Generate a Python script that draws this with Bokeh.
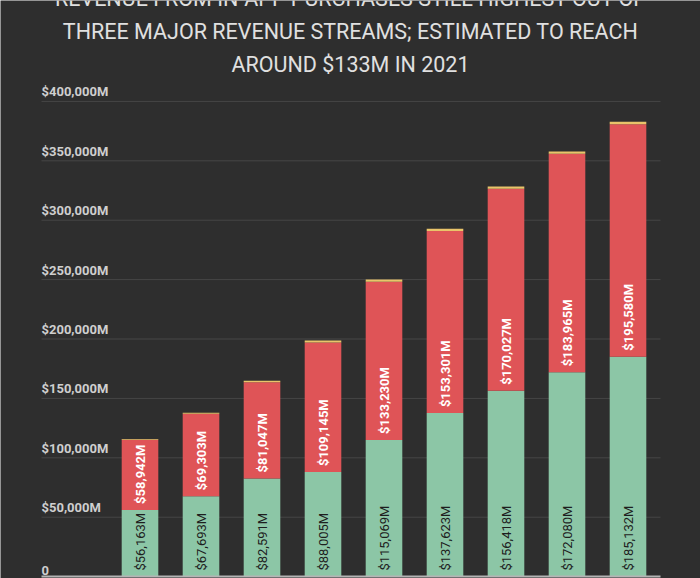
import numpy as np
from bokeh.plotting import figure
from bokeh.models import Range1d, ColumnDataSource
from bokeh.core.properties import value
from bokeh.embed import file_html
from bokeh.resources import INLINE

# ---- data ----
years = ["2013", "2014", "2015", "2016", "2017", "2018", "2019", "2020", "2021"]
in_app = [56163, 67693, 82591, 88005, 115069, 137623, 156418, 172080, 185132]
ads = [58942, 69303, 81047, 109145, 133230, 153301, 170027, 183965, 195580]
paid = [700, 900, 1300, 1500, 1800, 2000, 2000, 1900, 2100]
tick_values = [0, 50000, 100000, 150000, 200000, 250000, 300000, 350000, 400000]
tick_labels = ["0", "$50,000M", "$100,000M", "$150,000M", "$200,000M",
               "$250,000M", "$300,000M", "$350,000M", "$400,000M"]
title_lines = ["REVENUE FROM IN-APP PURCHASES STILL HIGHEST OUT OF",
               "THREE MAJOR REVENUE STREAMS; ESTIMATED TO REACH",
               "AROUND $133M IN 2021"]

W, H = 700, 578
BG = "#2e2e2e"
GREEN = "#8cc6a6"
RED = "#df5457"
YELLOW = "#e9c46a"

# scale helpers (pixels per unit)
X0_PX, X_STEP = 139.5, 61.0       # first bar centre, category spacing
Y0_PX, Y_PER_PX = 576.1, 841.8    # zero line pixel, value per pixel

x_start = -X0_PX / X_STEP
x_end = (W - X0_PX) / X_STEP
y_start = -(H - Y0_PX) * Y_PER_PX
y_end = Y0_PX * Y_PER_PX

def px_to_x(px):
    return (px - X0_PX) / X_STEP

def px_to_y(py):
    return (Y0_PX - py) * Y_PER_PX

p = figure(width=W, height=H, output_backend="svg", toolbar_location=None,
           x_range=Range1d(x_start, x_end), y_range=Range1d(y_start, y_end),
           min_border=0, background_fill_color=BG, border_fill_color=BG,
           outline_line_color=None)
p.axis.visible = False
p.xgrid.visible = False
p.ygrid.visible = False

idx = np.arange(len(years))
g = np.array(in_app, dtype=float)
r = np.array(ads, dtype=float)
yv = np.array(paid, dtype=float)

grid_left = px_to_x(41)
grid_right = px_to_x(660)

# gridlines
gv = [t for t in tick_values if t > 0]
p.segment(x0=[grid_left] * len(gv), x1=[grid_right] * len(gv), y0=gv, y1=gv,
          line_color="#464646", line_width=1)

src = ColumnDataSource(dict(
    x=idx, g=g, gr=g + r, grt=g + r + yv,
    glab=[f"${v:,}M" for v in in_app],
    rlab=[f"${v:,}M" for v in ads],
    gy=0 + 6 * Y_PER_PX + 0 * g,
    ry=g + 6 * Y_PER_PX,
))

p.vbar(x="x", width=0.6, bottom=0, top="g", source=src, fill_color=GREEN, line_color=None)
p.vbar(x="x", width=0.6, bottom="g", top="gr", source=src, fill_color=RED, line_color=None)
p.vbar(x="x", width=0.6, bottom="gr", top="grt", source=src, fill_color=YELLOW, line_color=None)

# baseline axis line
p.segment(x0=[grid_left], x1=[grid_right], y0=[0], y1=[0], line_color="#b4b4b4", line_width=2)

# bar labels
p.text(x="x", y="gy", text="glab", source=src, angle=np.pi / 2,
       text_align="left", text_baseline="middle", text_color="#1e1e1e",
       text_font=value("Roboto"), text_font_size="13px")
p.text(x="x", y="ry", text="rlab", source=src, angle=np.pi / 2,
       text_align="left", text_baseline="middle", text_color="#ffffff",
       text_font=value("Roboto"), text_font_size="13px", text_font_style="bold")

# y tick labels (drawn over gridlines, above them)
p.text(x=[grid_left] * len(tick_values), y=tick_values, text=tick_labels,
       text_align="left", text_baseline="bottom", y_offset=-2,
       text_color="#cfcfcf", text_font=value("Roboto"), text_font_size="13px",
       text_font_style="bold")

# title lines
title_px = [-2, 31, 64]
p.text(x=[px_to_x(W / 2)] * 3, y=[px_to_y(v) for v in title_px], text=title_lines,
       text_align="center", text_baseline="alphabetic", text_color="#e0e0e0",
       text_font=value("Roboto"), text_font_size="21.5px")

open("out.html", "w").write(file_html(p, INLINE))
